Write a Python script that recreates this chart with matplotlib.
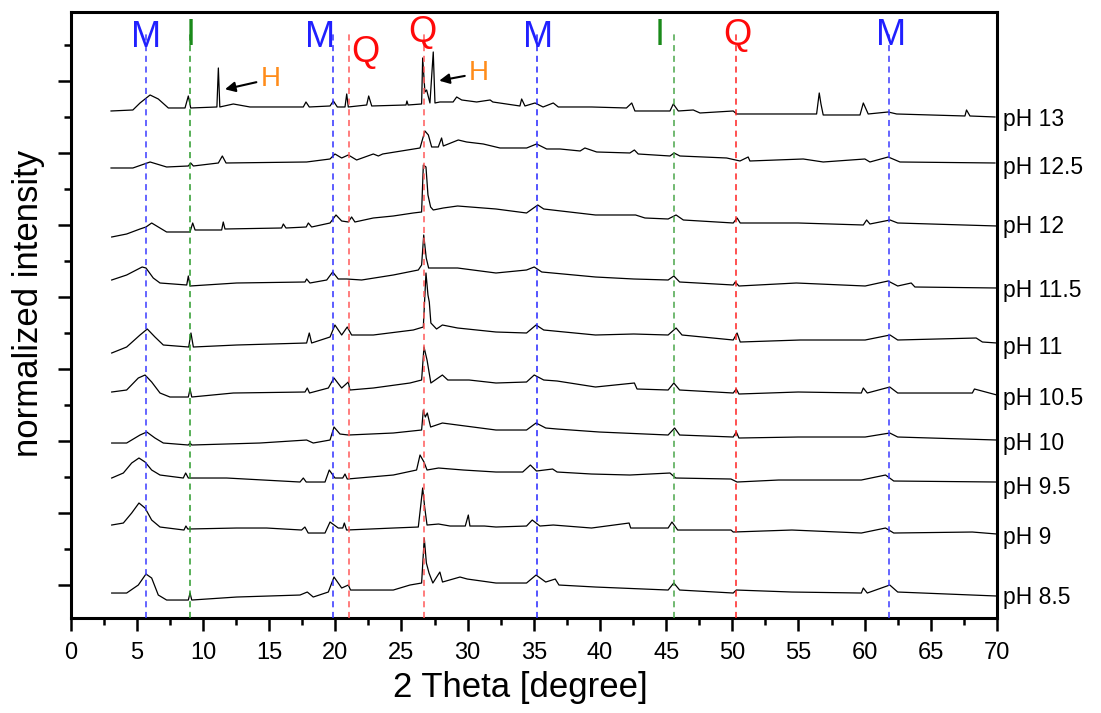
#!/usr/bin/env python3

import numpy as np
import matplotlib
matplotlib.use("Agg")
import matplotlib.pyplot as plt
from matplotlib.ticker import MultipleLocator, NullFormatter

plt.rcParams['font.family'] = ['Liberation Sans', 'DejaVu Sans']

# stacked XRD patterns (2 theta in degree, offset intensity)
ph13_x = [3.05, 4.7, 5.24, 6.0, 6.62, 7.38, 8.64, 8.89, 9.07, 11.05, 11.16, 11.27, 12.29, 13.55,
          17.58, 17.78, 18.03, 19.6, 19.85, 20.15, 20.73, 20.86, 20.98, 22.37, 22.52, 22.75,
          25.34, 25.41, 25.5, 26.52, 26.6, 26.77, 26.9, 27.15, 27.4, 27.53, 27.9, 28.9, 29.17,
          29.55, 30.68, 31.7, 31.9, 33.95, 34.08, 34.33, 35.09, 35.7, 36.47, 36.85, 39.37, 42.0,
          42.4, 42.64, 45.29, 45.54, 45.92, 47.05, 47.56, 50.07, 50.33, 56.37, 56.57, 56.7, 56.87,
          59.65, 59.9, 60.27, 61.78, 62.42, 67.58, 67.7, 67.96, 69.85]
ph13_y = [474, 475, 482, 490, 486, 477, 477, 489, 477, 478, 517, 478, 481, 478,
          478, 483, 478, 479, 484, 478, 478, 491, 478, 480, 489, 479,
          480, 484, 480, 481, 527, 493, 495, 482, 533, 482, 483, 483, 488,
          485, 483, 485, 483, 479, 486, 479, 482, 478, 482, 478, 478, 477,
          482, 474, 474, 481, 474, 475, 472, 474, 471, 471, 492, 481, 470,
          470, 482, 471, 473, 471, 469, 475, 469, 468]

ph125_x = [3.05, 4.7, 6.0, 7.25, 8.89, 9.07, 9.27, 11.16, 11.46, 11.74, 17.83, 19.6, 19.97,
           20.48, 20.98, 21.61, 22.87, 23.25, 23.58, 26.4, 26.77, 27.03, 27.28, 27.78, 28.03,
           28.16, 29.29, 29.92, 31.18, 32.44, 34.46, 35.21, 35.97, 36.98, 38.5, 38.86, 39.75,
           42.26, 42.6, 42.89, 45.29, 45.6, 46.04, 49.57, 50.58, 51.2, 51.33, 55.36, 56.87,
           60.02, 60.4, 61.78, 62.67, 69.85]
ph125_y = [417, 417, 423, 418, 419, 422, 419, 422, 429, 422, 423, 426, 431,
           427, 430, 425, 431, 429, 431, 437, 454, 450, 438, 438, 447,
           439, 445, 443, 441, 437, 437, 441, 436, 436, 434, 437, 433,
           432, 435, 431, 429, 432, 429, 427, 424, 428, 424, 426, 423,
           426, 423, 428, 423, 422]

ph12_x = [3.1, 4.23, 5.24, 5.69, 6.12, 6.62, 7.25, 9.02, 9.22, 9.4, 11.41, 11.53, 11.66, 15.94,
          16.07, 16.27, 17.8, 17.96, 18.21, 19.6, 20.05, 20.48, 20.98, 21.23, 21.48, 22.87,
          24.38, 25.89, 26.52, 26.65, 26.85, 27.0, 27.2, 27.4, 28.16, 29.24, 32.14, 34.45,
          35.3, 35.75, 39.66, 42.69, 43.4, 45.15, 45.75, 46.3, 50.07, 50.36, 50.6, 54.98,
          59.9, 60.15, 60.4, 61.92, 62.5, 70.0]
ph12_y = [348, 351, 356, 358, 362, 358, 353, 353, 362, 355, 355, 363, 356, 357,
          361, 357, 358, 362, 358, 362, 370, 364, 363, 368, 363, 367,
          369, 372, 373, 420, 418, 390, 378, 375, 377, 379, 376, 372,
          380, 376, 370, 370, 367, 366, 370, 365, 362, 367, 362, 362,
          360, 365, 361, 365, 362, 359]

ph115_x = [3.1, 4.23, 5.4, 5.69, 6.24, 6.75, 8.77, 8.89, 9.02, 12.54, 17.71, 17.83, 18.08,
           19.35, 19.8, 20.22, 20.86, 21.99, 24.38, 26.27, 26.52, 26.68, 26.87, 27.05, 27.65,
           29.24, 32.14, 34.45, 35.03, 35.6, 39.66, 42.55, 45.15, 45.58, 46.02, 50.07, 50.22,
           50.5, 54.84, 60.04, 61.77, 62.5, 63.52, 63.8, 70.0]
ph115_y = [305, 310, 318, 317, 307, 302, 300, 309, 299, 302, 303, 306, 302,
           305, 313, 306, 306, 305, 310, 315, 320, 350, 327, 317, 317,
           317, 312, 315, 318, 313, 308, 306, 305, 309, 303, 300, 303,
           299, 302, 299, 304, 299, 302, 298, 297]

ph11_x = [3.1, 4.23, 5.24, 5.79, 6.37, 7.0, 8.92, 9.09, 9.27, 12.54, 17.83, 18.03, 18.21, 19.6,
          19.97, 20.48, 20.9, 21.23, 22.87, 25.89, 26.65, 26.85, 27.0, 27.1, 27.22, 27.65,
          28.09, 29.24, 32.14, 34.45, 35.17, 35.75, 39.66, 42.55, 45.15, 45.75, 46.2, 50.07,
          50.36, 50.6, 55.13, 60.04, 61.92, 62.5, 68.43, 68.9, 70.0]
ph11_y = [232, 238, 250, 256, 248, 240, 238, 252, 238, 240, 242, 252, 242, 248,
          260, 250, 258, 250, 250, 255, 258, 312, 290, 283, 262, 256,
          260, 257, 253, 252, 260, 255, 250, 251, 250, 257, 250, 245,
          252, 243, 245, 245, 250, 245, 247, 243, 242]

ph105_x = [3.1, 4.23, 5.11, 5.62, 6.12, 6.75, 7.5, 8.89, 9.02, 9.15, 12.29, 17.71, 17.88, 18.05,
           19.47, 19.9, 20.48, 20.98, 21.1, 22.87, 25.64, 26.52, 26.7, 26.93, 27.22, 28.09,
           28.5, 30.11, 32.14, 34.45, 35.03, 35.75, 36.76, 39.66, 42.6, 42.8, 45.15, 45.58,
           46.02, 50.07, 50.3, 50.5, 54.98, 59.75, 59.9, 60.2, 61.9, 62.5, 68.14, 68.3, 70.0]
ph105_y = [193, 195, 207, 210, 203, 192, 188, 188, 196, 188, 192, 193, 197, 192,
           197, 207, 197, 203, 195, 197, 202, 205, 238, 225, 202, 210,
           205, 205, 202, 203, 210, 205, 204, 198, 202, 196, 195, 202,
           195, 192, 196, 191, 193, 192, 197, 192, 198, 192, 192, 196, 190]

ph10_x = [3.1, 4.23, 5.24, 5.75, 6.37, 7.0, 8.89, 9.02, 9.15, 14.3, 17.83, 18.33, 19.6, 19.9,
          20.35, 20.98, 24.38, 26.52, 26.65, 26.8, 26.95, 27.2, 28.09, 29.24, 32.14, 34.45,
          35.17, 35.9, 36.76, 39.95, 45.15, 45.64, 46.02, 50.07, 50.3, 50.5, 54.98, 60.04,
          61.9, 62.5, 70.0]
ph10_y = [142, 142, 150, 153, 147, 142, 140, 142, 140, 142, 145, 142, 145, 158,
          151, 150, 152, 155, 175, 168, 172, 158, 162, 160, 155, 155,
          162, 157, 156, 153, 150, 157, 150, 148, 153, 147, 148, 148,
          152, 148, 145]

ph95_x = [3.1, 3.98, 4.61, 5.16, 5.62, 6.12, 6.75, 8.51, 8.69, 8.89, 11.79, 17.33, 17.58, 17.8,
          19.22, 19.54, 19.97, 20.56, 20.73, 20.9, 24.38, 26.14, 26.4, 26.7, 26.93, 27.8,
          29.68, 32.14, 34.16, 34.74, 35.2, 36.42, 36.76, 39.36, 42.26, 45.29, 45.72, 49.9,
          50.36, 53.5, 59.75, 61.58, 62.2, 70.0]
ph95_y = [107, 112, 122, 127, 123, 115, 110, 107, 112, 107, 107, 103, 107, 103,
          103, 115, 107, 107, 111, 106, 110, 115, 130, 123, 115, 117,
          115, 113, 113, 120, 114, 116, 113, 111, 110, 112, 107, 106,
          103, 105, 105, 110, 104, 103]

ph9_x = [3.1, 3.98, 4.61, 5.16, 5.62, 6.12, 6.75, 8.56, 8.71, 8.85, 12.54, 14.81, 17.45, 17.7,
         17.95, 19.22, 19.6, 20.22, 20.56, 20.68, 20.85, 24.38, 26.27, 26.45, 26.6, 26.75,
         26.93, 27.8, 28.67, 29.82, 30.05, 30.17, 31.27, 32.14, 34.45, 34.88, 35.46, 36.47,
         39.36, 42.2, 42.32, 45.15, 45.44, 45.87, 49.9, 50.07, 54.5, 59.75, 61.58, 62.2,
         68.14, 70.0]
ph9_y = [60, 62, 72, 82, 77, 65, 58, 55, 59, 56, 57, 57, 55, 58,
         52, 52, 63, 57, 57, 62, 55, 57, 58, 79, 97, 78,
         60, 61, 59, 59, 70, 59, 59, 58, 59, 65, 59, 60,
         57, 62, 57, 57, 63, 55, 55, 53, 55, 52, 57, 52,
         53, 51]

ph85_x = [3.1, 4.23, 5.11, 5.69, 6.12, 6.62, 7.25, 8.89, 9.02, 9.15, 12.54, 17.33, 17.88, 18.33,
          19.47, 19.9, 20.48, 20.98, 21.15, 24.38, 25.64, 26.52, 26.72, 26.88, 27.08, 27.37,
          27.9, 28.1, 29.42, 29.97, 32.14, 34.45, 35.17, 35.9, 36.62, 36.9, 39.66, 45.15,
          45.58, 46.02, 50.07, 50.3, 54.5, 59.75, 59.9, 60.2, 61.9, 62.5, 70.0]
ph85_y = [-8, -8, 0, 11, 7, -10, -15, -15, -8, -15, -12, -10, -7, -12,
          -7, 8, -3, 0, -5, -5, 0, 2, 47, 22, 12, 2,
          13, 3, 8, 6, 2, 2, 10, 3, 6, 0, -2, -5,
          2, -5, -8, -5, -7, -8, -3, -8, 0, -7, -11]

ph_labels = ['pH 13', 'pH 12.5', 'pH 12', 'pH 11.5', 'pH 11',
             'pH 10.5', 'pH 10', 'pH 9.5', 'pH 9', 'pH 8.5']
label_y = [465, 417, 358, 295, 238, 187, 142, 98, 48, -12]

# reference phase positions
phase_pos = [5.7, 9.05, 19.82, 21.0, 26.7, 35.26, 45.57, 50.3, 61.86]
phase_col = ['#3a3aff', '#2a9a2a', '#3030ff', '#ff5a5a', '#ff5a5a', '#2424ff', '#4aa64a', '#ff2020', '#3a3aff']
letters = ['M', 'I', 'M', 'Q', 'Q', 'M', 'I', 'Q', 'M']
letter_x = [5.69, 9.09, 18.84, 22.24, 26.55, 35.31, 44.53, 50.35, 61.99]
letter_y = [547, 549, 547, 532, 552, 547, 549, 549, 549]
letter_col = {'M': '#2020ff', 'I': '#1a8a1a', 'Q': '#ff0a0a'}

traces = [(ph13_x, ph13_y), (ph125_x, ph125_y), (ph12_x, ph12_y), (ph115_x, ph115_y),
          (ph11_x, ph11_y), (ph105_x, ph105_y), (ph10_x, ph10_y), (ph95_x, ph95_y),
          (ph9_x, ph9_y), (ph85_x, ph85_y)]

fig = plt.figure(figsize=(11.01, 7.13), dpi=100)
ax = fig.add_axes([0.0642, 0.1332, 0.9055 - 0.0642, 0.9832 - 0.1332])

for xs, ys in traces:
    ax.plot(xs, ys, color='k', lw=0.9, zorder=2)

for p, c in zip(phase_pos, phase_col):
    ax.plot([p, p], [-33, 552], color=c, lw=1.1, ls=(0, (4, 3)), zorder=3)

for t, lx, ly in zip(letters, letter_x, letter_y):
    ax.text(lx, ly, t, color=letter_col[t], fontsize=26, ha='center', va='center', zorder=4)

ax.annotate('H', xy=(11.66, 495.7), xytext=(15.1, 506), color='#ff8c1a', fontsize=20,
            ha='center', va='center',
            arrowprops=dict(arrowstyle='-|>', color='k', lw=1.5, mutation_scale=15, shrinkA=1, shrinkB=0))
ax.annotate('H', xy=(27.85, 504.3), xytext=(30.85, 511.7), color='#ff8c1a', fontsize=20,
            ha='center', va='center',
            arrowprops=dict(arrowstyle='-|>', color='k', lw=1.5, mutation_scale=15, shrinkA=1, shrinkB=0))

for lab, ly in zip(ph_labels, label_y):
    ax.text(70.45, ly, lab, fontsize=16.5, ha='left', va='center', clip_on=False)

ax.set_xlim(0, 70)
ax.set_ylim(-33, 573)
ax.xaxis.set_major_locator(MultipleLocator(5))
ax.xaxis.set_minor_locator(MultipleLocator(2.5))
ax.yaxis.set_major_locator(MultipleLocator(72))
ax.yaxis.set_minor_locator(MultipleLocator(36))
ax.yaxis.set_major_formatter(NullFormatter())
ax.tick_params(which='both', direction='out', width=1.8, top=False, right=False)
ax.tick_params(which='major', length=9.5)
ax.tick_params(which='minor', length=5)
ax.tick_params(axis='x', labelsize=17, pad=8)
for s in ax.spines.values():
    s.set_linewidth(2.2)

fig.text(0.473, 0.036, '2 Theta [degree]', fontsize=25, ha='center', va='center')
fig.text(0.0255, 0.575, 'normalized intensity', fontsize=25, ha='center', va='center', rotation=90)

plt.savefig('out.png', dpi=100)
